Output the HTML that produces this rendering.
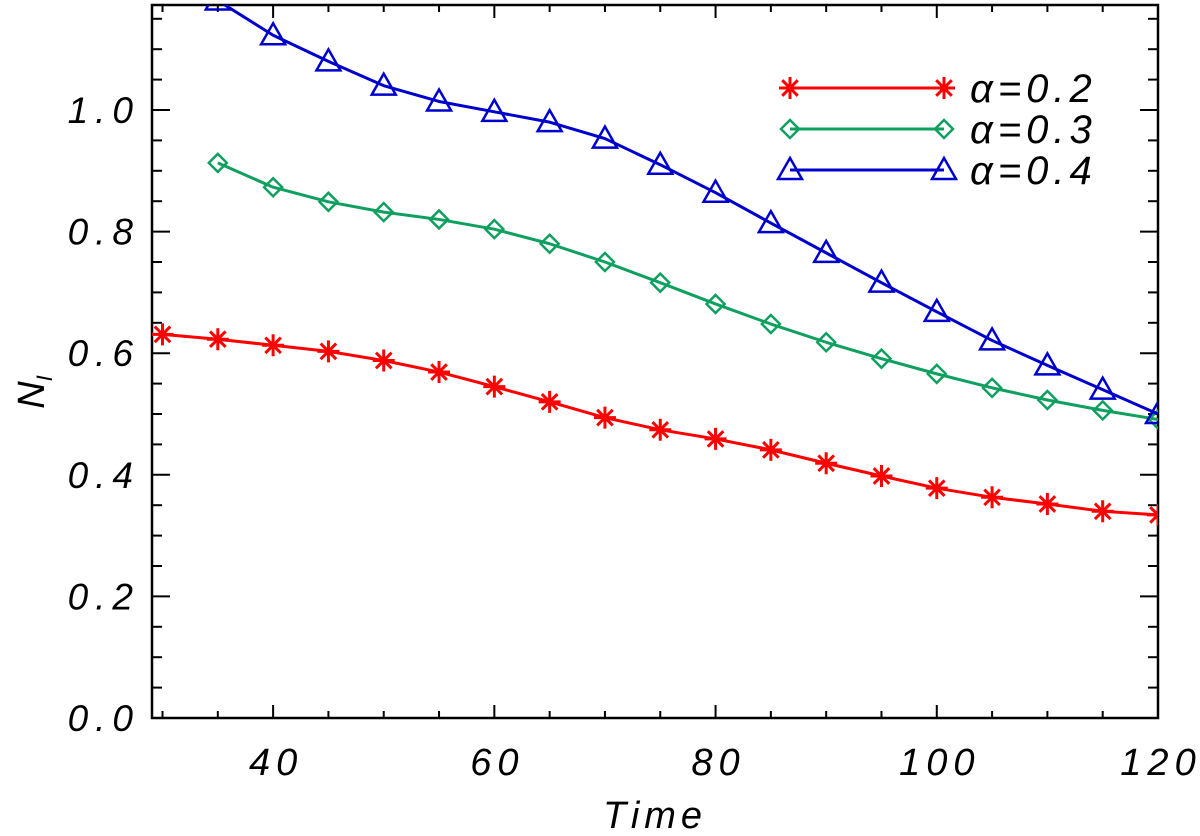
<!DOCTYPE html>
<html><head><meta charset="utf-8"><style>
html,body{margin:0;padding:0;background:#fff;}
svg{display:block;}
text{font-family:"Liberation Sans",sans-serif;font-style:italic;fill:#000;}
</style></head><body>
<svg id="chart" width="1200" height="836">
<rect x="152" y="5" width="1006" height="713" fill="none" stroke="#000" stroke-width="2.5"/>
<g id="ticks"></g>
<g id="series"></g>
<text x="655" y="828" font-size="38" letter-spacing="5" text-anchor="middle">Time</text>
<text transform="translate(44,392) rotate(-90)" font-size="38" text-anchor="middle">N<tspan font-size="22" dy="8">I</tspan></text>
<g id="legend"></g>
</svg>
<script>
const times = [30,35,40,45,50,55,60,65,70,75,80,85,90,95,100,105,110,115,120];
const red = [0.631,0.623,0.613,0.603,0.588,0.569,0.545,0.520,0.494,0.474,0.459,0.441,0.419,0.398,0.378,0.363,0.352,0.340,0.334];
const greenTimes = [35,40,45,50,55,60,65,70,75,80,85,90,95,100,105,110,115,120];
const green = [0.913,0.873,0.849,0.832,0.820,0.804,0.780,0.750,0.716,0.681,0.648,0.618,0.591,0.566,0.543,0.523,0.506,0.491];
const blueTimes = [35,40,45,50,55,60,65,70,75,80,85,90,95,100,105,110,115,120];
const blue = [1.18,1.123,1.080,1.040,1.014,0.997,0.980,0.953,0.910,0.864,0.814,0.765,0.716,0.668,0.621,0.580,0.540,0.500];
const xTicks = [40,60,80,100,120];
const yTicks = [0.0,0.2,0.4,0.6,0.8,1.0];
const labels = ["α=0.2","α=0.3","α=0.4"];

const NS="http://www.w3.org/2000/svg";
const X0=152,X1=1158,Y0=718,Y1=5, TMIN=29.05,TMAX=120, VMIN=0,VMAX=1.1727;
function sx(t){return X0+(t-TMIN)/(TMAX-TMIN)*(X1-X0);}
function sy(v){return Y0-(v-VMIN)/(VMAX-VMIN)*(Y0-Y1);}
function mk(tag,attrs,parent){const e=document.createElementNS(NS,tag);for(const k in attrs)e.setAttribute(k,attrs[k]);parent.appendChild(e);return e;}

const tg=document.getElementById('ticks');
for(let t=30;t<=120;t+=5){
  const major=(t%20===0);const L=major?13:7;const x=sx(t);
  const a=mk('line',{x1:x,x2:x,y1:Y0,y2:Y0-L,stroke:'#000','stroke-width':2},tg);
  
  
  const b=mk('line',{x1:x,x2:x,y1:Y1,y2:Y1+L,stroke:'#000','stroke-width':2},tg);
  
  
}
xTicks.forEach(t=>{
  const e=mk('text',{x:sx(t)+3,y:775,'font-size':38,'letter-spacing':6,'text-anchor':'middle'},tg);
  e.textContent=String(t);
  
  
});
for(let i=0;i<=23;i++){
  const v=i*0.05;const major=(i%4===0);const L=major?18:10;const y=sy(v);
  const a=mk('line',{x1:X0,x2:X0+L,y1:y,y2:y,stroke:'#000','stroke-width':2},tg);
  
  
  const b=mk('line',{x1:X1,x2:X1-L,y1:y,y2:y,stroke:'#000','stroke-width':2},tg);
  
  
}
yTicks.forEach(v=>{
  const e=mk('text',{x:140,y:sy(v)+13,'font-size':37,'letter-spacing':7,'text-anchor':'end'},tg);
  e.textContent=v.toFixed(1);
  
  
});

function marker(type,x,y,color,parent){
  let e;
  if(type==='star'){
    let d='';const r=11;
    for(let k=0;k<4;k++){const a=k*Math.PI/4+Math.PI/2;d+=`M${x-r*Math.cos(a)},${y-r*Math.sin(a)}L${x+r*Math.cos(a)},${y+r*Math.sin(a)}`;}
    e=mk('path',{d:d,stroke:color,'stroke-width':3,fill:'none'},parent);
  }else if(type==='diamond'){
    const r=9;
    e=mk('path',{d:`M${x},${y-r}L${x+r},${y}L${x},${y+r}L${x-r},${y}Z`,stroke:color,'stroke-width':2.5,fill:'none'},parent);
  }else{
    const r=12;
    e=mk('path',{d:`M${x},${y-r}L${x+r},${y+r*0.75}L${x-r},${y+r*0.75}Z`,stroke:color,'stroke-width':2.5,fill:'none'},parent);
  }
  return e;
}
const sg=document.getElementById('series');
mk('clipPath',{id:'clip'},document.getElementById('chart'));
mk('rect',{x:X0,y:Y1,width:X1-X0,height:Y0-Y1},document.getElementById('clip'));
sg.setAttribute('clip-path','url(#clip)');
const defs=[
  {ts:times,vs:red,color:'#ff0000',type:'star',name:'alpha-0.2'},
  {ts:greenTimes,vs:green,color:'#0fa060',type:'diamond',name:'alpha-0.3'},
  {ts:blueTimes,vs:blue,color:'#0000cc',type:'tri',name:'alpha-0.4'}
];
defs.forEach(s=>{
  const pts=s.ts.map((t,i)=>sx(t)+','+sy(s.vs[i])).join(' ');
  const l=mk('polyline',{points:pts,fill:'none',stroke:s.color,'stroke-width':3,'stroke-linejoin':'round'},sg);
  
  
  s.ts.forEach((t,i)=>{
    const m=marker(s.type,sx(t),sy(s.vs[i]),s.color,sg);
    
    
  });
});
const lg=document.getElementById('legend');
defs.forEach((s,i)=>{
  const y=88+i*41;
  const l=mk('line',{x1:790,x2:944,y1:y,y2:y,stroke:s.color,'stroke-width':3},lg);
  
  
  const m1=marker(s.type,790,y,s.color,lg);
  
  
  const m2=marker(s.type,944,y,s.color,lg);
  
  
  const t=mk('text',{x:970,y:y+14,'font-size':40,'letter-spacing':5},lg);
  t.textContent=labels[i];
  
  
});
</script>
</body></html>
